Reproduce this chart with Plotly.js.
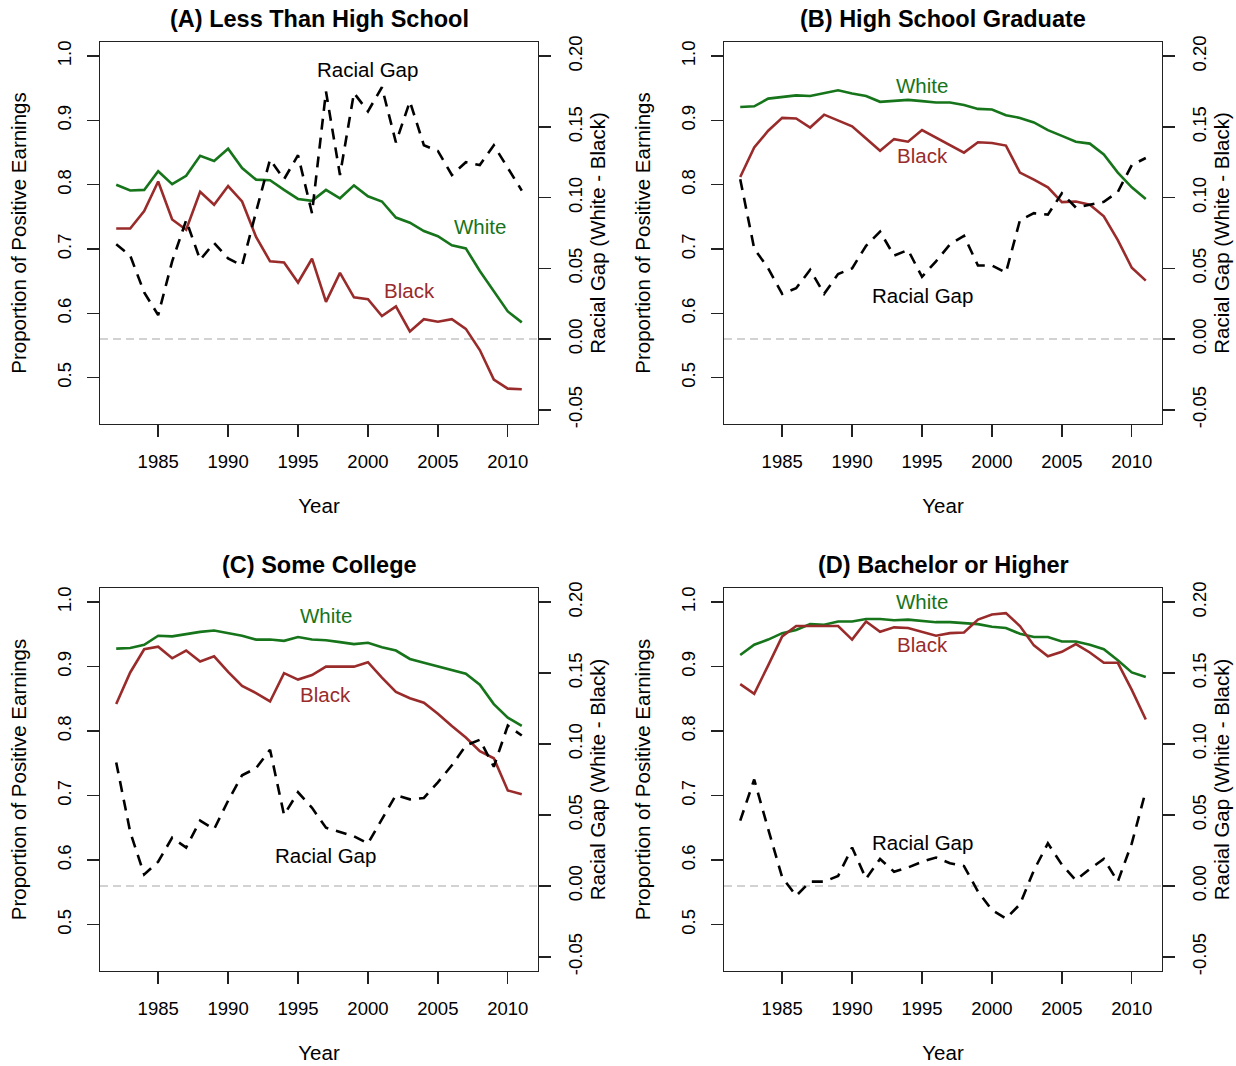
<!DOCTYPE html>
<html>
<head>
<meta charset="utf-8">
<script src="https://cdn.plot.ly/plotly-3.0.1.min.js"></script>
<style>html,body{margin:0;padding:0;background:#fff;}#chart{width:1236px;height:1066px;}</style>
</head>
<body>
<div id="chart"></div>
<script>
// ---------- data ----------
const years = [1982,1983,1984,1985,1986,1987,1988,1989,1990,1991,1992,1993,1994,1995,1996,1997,1998,1999,2000,2001,2002,2003,2004,2005,2006,2007,2008,2009,2010,2011];

const panelTitles = ["(A) Less Than High School", "(B) High School Graduate", "(C) Some College", "(D) Bachelor or Higher"];

// (A) Less Than High School
const whiteA = [0.800,0.791,0.792,0.821,0.801,0.814,0.845,0.837,0.856,0.826,0.808,0.807,0.792,0.778,0.775,0.792,0.779,0.799,0.782,0.774,0.749,0.741,0.728,0.720,0.706,0.701,0.666,0.634,0.603,0.586];
const blackA = [0.732,0.732,0.759,0.805,0.746,0.730,0.789,0.769,0.798,0.774,0.719,0.681,0.679,0.648,0.685,0.618,0.663,0.625,0.622,0.596,0.611,0.572,0.591,0.587,0.591,0.576,0.543,0.497,0.483,0.482];
const gapA   = [0.067,0.059,0.033,0.017,0.055,0.084,0.056,0.068,0.057,0.052,0.090,0.127,0.113,0.130,0.089,0.175,0.116,0.174,0.161,0.178,0.139,0.168,0.137,0.133,0.116,0.125,0.123,0.137,0.121,0.105];

// (B) High School Graduate
const whiteB = [0.921,0.922,0.934,0.937,0.939,0.938,0.942,0.947,0.942,0.938,0.929,0.930,0.932,0.930,0.928,0.928,0.924,0.918,0.917,0.908,0.904,0.897,0.885,0.876,0.867,0.864,0.847,0.819,0.796,0.778];
const blackB = [0.812,0.858,0.884,0.904,0.903,0.889,0.909,0.900,0.891,0.872,0.853,0.871,0.867,0.885,0.873,0.861,0.850,0.866,0.865,0.861,0.819,0.808,0.796,0.773,0.774,0.769,0.751,0.714,0.671,0.651];
const gapB   = [0.113,0.064,0.050,0.032,0.036,0.049,0.032,0.046,0.050,0.066,0.076,0.059,0.063,0.044,0.055,0.067,0.073,0.052,0.052,0.047,0.084,0.089,0.088,0.103,0.093,0.095,0.097,0.104,0.123,0.128];

// (C) Some College
const whiteC = [0.928,0.929,0.934,0.948,0.947,0.951,0.954,0.956,0.952,0.948,0.942,0.942,0.940,0.946,0.942,0.941,0.938,0.935,0.937,0.930,0.925,0.912,0.906,0.900,0.894,0.889,0.872,0.842,0.821,0.808];
const blackC = [0.842,0.891,0.927,0.931,0.913,0.925,0.908,0.916,0.892,0.870,0.859,0.846,0.890,0.880,0.887,0.900,0.900,0.900,0.907,0.883,0.861,0.851,0.844,0.827,0.808,0.790,0.769,0.758,0.708,0.702];
const gapC   = [0.087,0.038,0.008,0.017,0.034,0.027,0.046,0.040,0.060,0.078,0.083,0.096,0.050,0.066,0.055,0.041,0.038,0.035,0.030,0.047,0.064,0.061,0.062,0.073,0.085,0.099,0.103,0.084,0.113,0.106];

// (D) Bachelor or Higher
const whiteD = [0.918,0.934,0.942,0.952,0.957,0.966,0.965,0.970,0.970,0.974,0.974,0.972,0.973,0.971,0.969,0.969,0.968,0.966,0.962,0.960,0.951,0.946,0.946,0.939,0.939,0.934,0.927,0.910,0.891,0.884];
const blackD = [0.873,0.858,0.902,0.947,0.963,0.963,0.963,0.963,0.942,0.970,0.954,0.961,0.960,0.954,0.948,0.952,0.953,0.973,0.981,0.983,0.963,0.933,0.916,0.923,0.935,0.922,0.906,0.906,0.864,0.818];
const gapD   = [0.046,0.075,0.040,0.006,-0.007,0.003,0.003,0.007,0.027,0.005,0.019,0.010,0.013,0.017,0.020,0.016,0.014,-0.004,-0.017,-0.023,-0.013,0.011,0.030,0.015,0.004,0.012,0.019,0.003,0.030,0.067];

// label positions (year, proportion) for the in-plot text labels
const labelPosA = {white:[2008,0.735], black:[2003,0.636], gap:[2000,0.980]};
const labelPosB = {white:[1995,0.955], black:[1995,0.845], gap:[1995,0.628]};
const labelPosC = {white:[1997,0.980], black:[1997,0.857], gap:[1997,0.607]};
const labelPosD = {white:[1995,1.001], black:[1995,0.935], gap:[1995,0.628]};

// ---------- styling ----------
const W = 1236, H = 1066;
const GREEN = '#16741a', RED = '#9a2b2b';
const FONT = 'Liberation Sans, Arial, Helvetica, sans-serif';
const panels = [
  {white:whiteA, black:blackA, gap:gapA, lab:labelPosA, px:[100,538], py:[42,424]},
  {white:whiteB, black:blackB, gap:gapB, lab:labelPosB, px:[724,1162], py:[42,424]},
  {white:whiteC, black:blackC, gap:gapC, lab:labelPosC, px:[100,538], py:[588,971]},
  {white:whiteD, black:blackD, gap:gapD, lab:labelPosD, px:[724,1162], py:[588,971]}
];

const data = [];
const layout = {
  width: W, height: H,
  margin: {l:0, r:0, t:0, b:0},
  paper_bgcolor: '#fff', plot_bgcolor: '#fff',
  showlegend: false,
  font: {family: FONT, color: '#000'},
  annotations: [], shapes: []
};

panels.forEach((p, i) => {
  const n = i + 1;
  const xa = 'x' + (n === 1 ? '' : n);
  const yl = 'y' + (2*n - 1 === 1 ? '' : (2*n - 1));
  const yr = 'y' + (2*n);
  const xKey = 'xaxis' + (n === 1 ? '' : n);
  const ylKey = 'yaxis' + (2*n - 1 === 1 ? '' : (2*n - 1));
  const yrKey = 'yaxis' + (2*n);
  const xdom = [p.px[0]/W, p.px[1]/W];
  const ydom = [1 - p.py[1]/H, 1 - p.py[0]/H];

  data.push({x: years, y: p.white, xaxis: xa, yaxis: yl, type: 'scatter', mode: 'lines',
             line: {color: GREEN, width: 2.6}, name: 'White', hoverinfo: 'x+y'});
  data.push({x: years, y: p.black, xaxis: xa, yaxis: yl, type: 'scatter', mode: 'lines',
             line: {color: RED, width: 2.6}, name: 'Black', hoverinfo: 'x+y'});
  data.push({x: years, y: p.gap, xaxis: xa, yaxis: yr, type: 'scatter', mode: 'lines',
             line: {color: '#000', width: 2.6, dash: '11px,8px'}, name: 'Racial Gap', hoverinfo: 'x+y'});

  const common = {
    showgrid: false, zeroline: false, showline: true, linecolor: '#222', linewidth: 1.4,
    ticks: 'outside', ticklen: 12, tickwidth: 1.4, tickcolor: '#222',
    tickfont: {family: FONT, size: 18.5, color: '#000'}, fixedrange: true
  };

  layout[xKey] = Object.assign({}, common, {
    domain: xdom, anchor: yl, range: [1980.84, 2012.16], mirror: true,
    tickvals: [1985,1990,1995,2000,2005,2010], ticklabelstandoff: 8,
    title: {text: 'Year', font: {family: FONT, size: 20.5, color: '#000'}, standoff: 28}
  });
  layout[ylKey] = Object.assign({}, common, {
    domain: ydom, anchor: xa, range: [0.428, 1.022], side: 'left',
    tickvals: [0.5,0.6,0.7,0.8,0.9,1.0], ticktext: ['0.5','0.6','0.7','0.8','0.9','1.0'],
    tickangle: -90, ticklabelstandoff: 8,
    title: {text: 'Proportion of Positive Earnings', font: {family: FONT, size: 20.5, color: '#000'}, standoff: 22}
  });
  layout[yrKey] = Object.assign({}, common, {
    domain: ydom, anchor: xa, overlaying: yl, side: 'right', range: [-0.06, 0.21],
    tickvals: [-0.05,0,0.05,0.1,0.15,0.2], ticktext: ['-0.05','0.00','0.05','0.10','0.15','0.20'],
    tickangle: -90, ticklabelstandoff: 8,
    title: {text: 'Racial Gap (White - Black)', font: {family: FONT, size: 20.5, color: '#000'}, standoff: 4}
  });

  // zero line of the racial gap
  layout.shapes.push({type: 'line', xref: xa + ' domain', yref: yr, x0: 0, x1: 1, y0: 0, y1: 0,
                      line: {color: '#c4c4c4', width: 1.5, dash: '8px,5px'}, layer: 'below'});

  // panel title
  layout.annotations.push({xref: 'paper', yref: 'paper', x: (xdom[0]+xdom[1])/2,
    y: 1 - (p.py[0] - 23)/H, yanchor: 'middle', xanchor: 'center', showarrow: false,
    text: '<b>' + panelTitles[i] + '</b>', font: {family: FONT, size: 23.5, color: '#000'}});

  // series labels
  const lab = (pos, txt, col) => layout.annotations.push({xref: xa, yref: yl, x: pos[0], y: pos[1],
    xanchor: 'center', yanchor: 'middle', showarrow: false, text: txt,
    font: {family: FONT, size: 20.5, color: col}});
  lab(p.lab.white, 'White', GREEN);
  lab(p.lab.black, 'Black', RED);
  lab(p.lab.gap, 'Racial Gap', '#000');
});

Plotly.newPlot('chart', data, layout, {displayModeBar: false, staticPlot: true});
</script>
</body>
</html>
